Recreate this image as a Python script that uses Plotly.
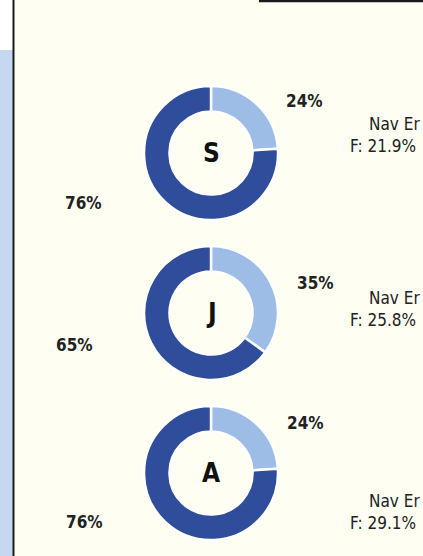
import plotly.graph_objects as go

# ---- data ----
letters = ["S", "J", "A"]
small_share = [24, 35, 24]
large_share = [76, 65, 76]
nav_label = ["Nav Er", "Nav Er", "Nav Er"]
f_values = [21.9, 25.8, 29.1]

W, H = 423, 556
BG = "#FEFEF3"
C_SMALL = "#9DBDE6"
C_LARGE = "#304D9B"

# layout (pixel positions)
cx = 211
cys = [153, 313, 473]
D = 134
small_lbl_pos = [(304, 101), (315, 283), (305, 423)]
large_lbl_pos = [(83, 203), (74, 345), (84, 522)]
nav_pos = [(367, 124), (367, 298), (367, 501)]
f_pos = [(348, 146), (348, 320), (348, 523)]

def px(x):
    return x / W

def py(y):
    return 1 - y / H

COND = "DejaVu Sans Condensed, DejaVu Sans"

fig = go.Figure()
annotations = []
for i, L in enumerate(letters):
    cy = cys[i]
    fig.add_trace(go.Pie(
        values=[small_share[i], large_share[i]],
        labels=[f"{L} small", f"{L} large"],
        hole=0.62,
        sort=False,
        direction="clockwise",
        rotation=0,
        textinfo="none",
        hoverinfo="label+percent",
        showlegend=False,
        marker=dict(colors=[C_SMALL, C_LARGE], line=dict(color="white", width=2.5)),
        domain=dict(x=[px(cx - D / 2), px(cx + D / 2)], y=[py(cy + D / 2), py(cy - D / 2)]),
    ))
    annotations.append(dict(x=px(cx), y=py(cy), xref="paper", yref="paper", text=f"<b>{L}</b>",
                            xanchor="center", yanchor="middle", showarrow=False,
                            font=dict(family=COND, size=26, color="#111")))
    sx, sy = small_lbl_pos[i]
    annotations.append(dict(x=px(sx), y=py(sy), xref="paper", yref="paper", text=f"<b>{small_share[i]}%</b>",
                            xanchor="center", yanchor="middle", showarrow=False,
                            font=dict(family=COND, size=17, color="#222")))
    lx, ly = large_lbl_pos[i]
    annotations.append(dict(x=px(lx), y=py(ly), xref="paper", yref="paper", text=f"<b>{large_share[i]}%</b>",
                            xanchor="center", yanchor="middle", showarrow=False,
                            font=dict(family=COND, size=17, color="#222")))
    nx, ny = nav_pos[i]
    annotations.append(dict(x=px(nx), y=py(ny), xref="paper", yref="paper", text=nav_label[i],
                            xanchor="left", yanchor="middle", showarrow=False,
                            font=dict(family=COND, size=17, color="#222")))
    fx, fy = f_pos[i]
    annotations.append(dict(x=px(fx), y=py(fy), xref="paper", yref="paper", text=f"F: {f_values[i]}%",
                            xanchor="left", yanchor="middle", showarrow=False,
                            font=dict(family=COND, size=17, color="#222")))

shapes = [
    dict(type="rect", xref="paper", yref="paper", x0=0, x1=px(13), y0=py(50), y1=1,
         fillcolor="white", line=dict(width=0), layer="below"),
    dict(type="rect", xref="paper", yref="paper", x0=0, x1=px(13), y0=0, y1=py(50),
         fillcolor="#C5D8F0", line=dict(width=0), layer="below"),
    dict(type="line", xref="paper", yref="paper", x0=px(13.5), x1=px(13.5), y0=0, y1=1,
         line=dict(color="#1a1a1a", width=2)),
    dict(type="line", xref="paper", yref="paper", x0=px(259), x1=1, y0=py(1), y1=py(1),
         line=dict(color="#1a1a1a", width=2.5)),
]

fig.update_layout(
    width=W, height=H,
    margin=dict(l=0, r=0, t=0, b=0),
    paper_bgcolor=BG, plot_bgcolor=BG,
    annotations=annotations,
    shapes=shapes,
)

fig.write_html(
    "out.html",
    config={"displayModeBar": False},
    post_script="document.body.style.margin='0';document.body.style.background='" + BG + "';",
)
